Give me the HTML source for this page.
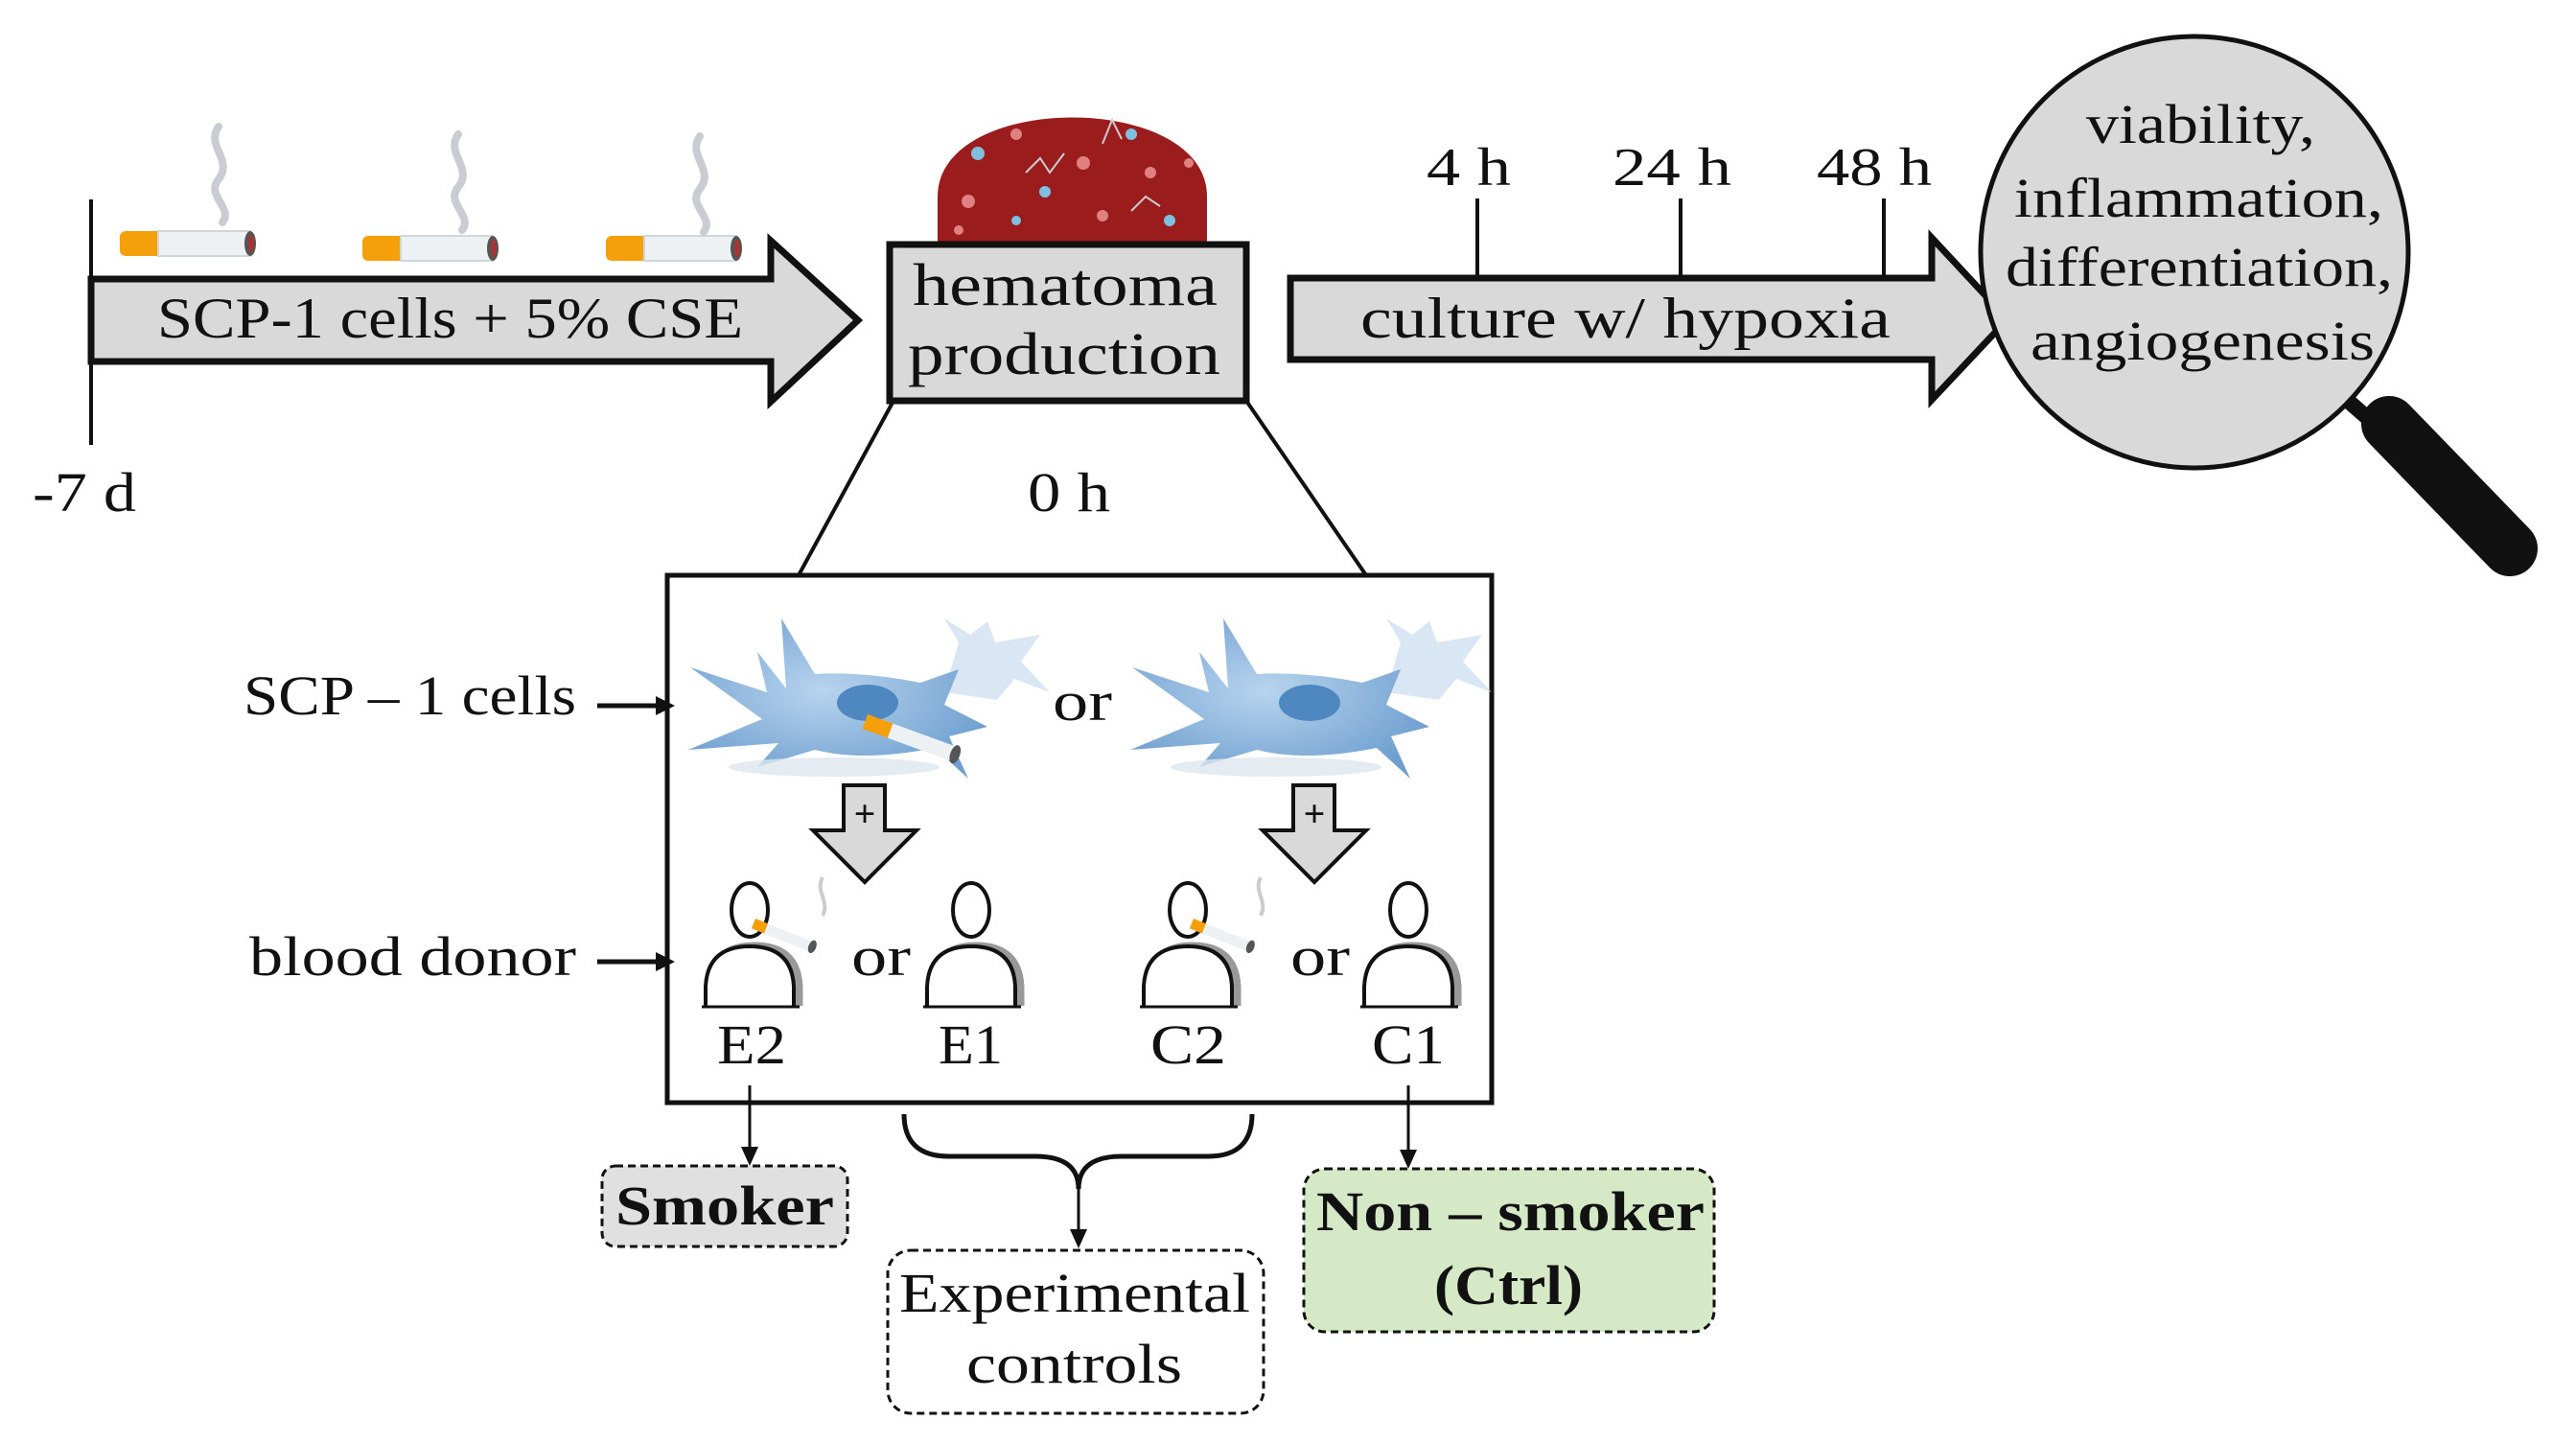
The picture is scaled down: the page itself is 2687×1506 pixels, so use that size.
<!DOCTYPE html>
<html><head><meta charset="utf-8"><style>
html,body{margin:0;padding:0;background:#fff;}
svg{display:block;}
text{font-family:"Liberation Serif",serif;fill:#111;}
</style></head><body>
<svg width="2687" height="1506" viewBox="0 0 2687 1506" xmlns="http://www.w3.org/2000/svg">
<defs>
<radialGradient id="cg" cx="0.45" cy="0.45" r="0.6"><stop offset="0" stop-color="#b8d4ee"/><stop offset="1" stop-color="#6f9fd0"/></radialGradient>
<g id="cig">
<rect x="0" y="0" width="46" height="26" rx="6" fill="#f5a00a"/>
<rect x="40" y="0" width="96" height="26" fill="#eef1f4" stroke="#cfd6dc" stroke-width="2"/>
<ellipse cx="136" cy="13" rx="6" ry="13" fill="#555"/>
<ellipse cx="137" cy="13" rx="3" ry="9" fill="#a33"/>
</g>
<g id="smoke"><path d="M0 0 C-14 20 16 35 0 55 C-14 72 16 85 4 100" fill="none" stroke="#c9cdd1" stroke-width="8" stroke-linecap="round"/></g>
<g id="cell">
<path d="M1000 670 L985 645 L1012 662 L1030 648 L1038 670 L1085 662 L1065 690 L1095 722 L1058 708 L1040 730 L985 722 Z" fill="#c9dcef" opacity="0.7"/>
<path d="M720 696 L800 722 L790 680 L820 718 L815 645 L850 703 Q900 700 960 712 L1000 698 L985 735 L1030 758 L990 768 L1010 812 L975 780 Q900 795 850 782 L790 800 L812 775 L718 782 L795 750 Z" fill="url(#cg)"/>
<ellipse cx="870" cy="800" rx="110" ry="10" fill="#dde6ee" opacity="0.8"/>
</g>
<g id="person">
<ellipse cx="0" cy="0" rx="19" ry="28" fill="#fff" stroke="#111" stroke-width="4"/>
<path d="M-46 100 L-46 80 Q-44 38 0 38 Q44 38 46 80 L46 100" fill="none" stroke="#999" stroke-width="9" transform="translate(5,0)"/>
<path d="M-46 100 L-46 80 Q-44 38 0 38 Q44 38 46 80 L46 100" fill="#fff" stroke="#111" stroke-width="4"/>
<line x1="-50" y1="101" x2="52" y2="101" stroke="#111" stroke-width="3"/>
</g>
</defs>

<line x1="95" y1="208" x2="95" y2="464" stroke="#111" stroke-width="4"/>
<use href="#cig" x="125" y="241"/><use href="#cig" x="378" y="246"/><use href="#cig" x="632" y="246"/>
<use href="#smoke" x="228" y="132"/><use href="#smoke" x="478" y="140"/><use href="#smoke" x="730" y="142"/>
<polygon points="95,291 804,291 804,251 895,334 804,419 804,377 95,377" fill="#d9d9d9" stroke="#111" stroke-width="7" stroke-linejoin="miter"/>
<text x="164" y="352" font-size="60" textLength="611" lengthAdjust="spacingAndGlyphs">SCP-1 cells + 5% CSE</text>
<text x="34" y="533" font-size="58" textLength="108" lengthAdjust="spacingAndGlyphs">-7 d</text>

<path d="M978 253 L978 205 C978 95 1259 95 1259 205 L1259 253 Z" fill="#9b1c1c"/>
<g fill="#7ec0e0"><circle cx="1020" cy="160" r="7"/><circle cx="1090" cy="200" r="6"/><circle cx="1180" cy="140" r="6"/><circle cx="1220" cy="230" r="6"/><circle cx="1060" cy="230" r="5"/></g>
<g fill="#e08080"><circle cx="1010" cy="210" r="7"/><circle cx="1060" cy="140" r="6"/><circle cx="1130" cy="170" r="7"/><circle cx="1200" cy="180" r="6"/><circle cx="1240" cy="170" r="5"/><circle cx="1150" cy="225" r="6"/><circle cx="1000" cy="240" r="5"/></g>
<g fill="none" stroke="#ccc" stroke-width="2"><path d="M1070 180 l15 -15 l10 15 l15 -20"/><path d="M1150 150 l10 -25 l10 20"/><path d="M1180 220 l15 -15 l15 10"/></g>
<rect x="928" y="255" width="372" height="163" fill="#d9d9d9" stroke="#111" stroke-width="7"/>
<text x="952" y="318" font-size="62" textLength="318" lengthAdjust="spacingAndGlyphs">hematoma</text>
<text x="947" y="390" font-size="62" textLength="326" lengthAdjust="spacingAndGlyphs">production</text>
<line x1="932" y1="418" x2="833" y2="600" stroke="#111" stroke-width="4"/>
<line x1="1300" y1="418" x2="1425" y2="600" stroke="#111" stroke-width="4"/>
<text x="1072" y="533" font-size="58" textLength="86" lengthAdjust="spacingAndGlyphs">0 h</text>

<polygon points="1346,290 2015,290 2015,248 2094,333 2015,417 2015,375 1346,375" fill="#d9d9d9" stroke="#111" stroke-width="7"/>
<g stroke="#111" stroke-width="4"><line x1="1541" y1="207" x2="1541" y2="290"/><line x1="1753" y1="207" x2="1753" y2="290"/><line x1="1965" y1="207" x2="1965" y2="290"/></g>
<text x="1488" y="193" font-size="56" textLength="88" lengthAdjust="spacingAndGlyphs">4 h</text>
<text x="1682" y="193" font-size="56" textLength="124" lengthAdjust="spacingAndGlyphs">24 h</text>
<text x="1895" y="193" font-size="56" textLength="120" lengthAdjust="spacingAndGlyphs">48 h</text>
<text x="1419" y="352" font-size="60" textLength="553" lengthAdjust="spacingAndGlyphs">culture w/ hypoxia</text>

<line x1="2440" y1="410" x2="2480" y2="445" stroke="#111" stroke-width="16"/>
<line x1="2492" y1="442" x2="2618" y2="572" stroke="#111" stroke-width="58" stroke-linecap="round"/>
<ellipse cx="2289" cy="263" rx="223" ry="225" fill="#d9d9d9" stroke="#111" stroke-width="5"/>
<text x="2176" y="149" font-size="58" textLength="239" lengthAdjust="spacingAndGlyphs">viability,</text>
<text x="2101" y="226" font-size="58" textLength="385" lengthAdjust="spacingAndGlyphs">inflammation,</text>
<text x="2092" y="298" font-size="58" textLength="404" lengthAdjust="spacingAndGlyphs">differentiation,</text>
<text x="2118" y="375" font-size="58" textLength="359" lengthAdjust="spacingAndGlyphs">angiogenesis</text>

<rect x="696" y="600" width="860" height="550" fill="#fff" stroke="#111" stroke-width="5"/>
<use href="#cell"/>
<ellipse cx="905" cy="733" rx="32" ry="19" fill="#4f87c0"/>
<g transform="translate(905,745) rotate(20)"><rect x="0" y="0" width="30" height="16" fill="#f5a00a"/><rect x="28" y="0" width="72" height="16" fill="#eef1f4"/><ellipse cx="100" cy="8" rx="5" ry="10" fill="#555"/></g>
<g transform="translate(461,0)"><use href="#cell"/><ellipse cx="905" cy="733" rx="32" ry="19" fill="#4f87c0"/></g>
<text x="1098" y="751" font-size="58" textLength="62" lengthAdjust="spacingAndGlyphs">or</text>

<polygon points="880,819 923,819 923,866 956,866 902,920 848,866 880,866" fill="#d9d9d9" stroke="#111" stroke-width="4"/>
<text x="902" y="862" font-size="40" text-anchor="middle" font-weight="bold">+</text>
<polygon points="1349,819 1392,819 1392,866 1425,866 1371,920 1317,866 1349,866" fill="#d9d9d9" stroke="#111" stroke-width="4"/>
<text x="1371" y="862" font-size="40" text-anchor="middle" font-weight="bold">+</text>

<use href="#person" x="782" y="949"/><use href="#person" x="1013" y="949"/>
<use href="#person" x="1239" y="949"/><use href="#person" x="1469" y="949"/>
<g transform="translate(788,958) rotate(22)"><rect x="0" y="0" width="16" height="11" fill="#f5a00a"/><rect x="14" y="0" width="52" height="11" fill="#eef1f4"/><ellipse cx="66" cy="5" rx="4" ry="7" fill="#555"/></g>
<g transform="translate(1245,958) rotate(22)"><rect x="0" y="0" width="16" height="11" fill="#f5a00a"/><rect x="14" y="0" width="52" height="11" fill="#eef1f4"/><ellipse cx="66" cy="5" rx="4" ry="7" fill="#555"/></g>
<path d="M858 915 c-8 15 8 25 0 40" fill="none" stroke="#ccc" stroke-width="4"/>
<path d="M1315 915 c-8 15 8 25 0 40" fill="none" stroke="#ccc" stroke-width="4"/>
<text x="888" y="1017" font-size="58" textLength="62" lengthAdjust="spacingAndGlyphs">or</text>
<text x="1346" y="1017" font-size="58" textLength="62" lengthAdjust="spacingAndGlyphs">or</text>
<text x="748" y="1109" font-size="58" textLength="72" lengthAdjust="spacingAndGlyphs">E2</text>
<text x="979" y="1109" font-size="58" textLength="67" lengthAdjust="spacingAndGlyphs">E1</text>
<text x="1200" y="1109" font-size="58" textLength="79" lengthAdjust="spacingAndGlyphs">C2</text>
<text x="1431" y="1109" font-size="58" textLength="76" lengthAdjust="spacingAndGlyphs">C1</text>

<text x="254" y="745" font-size="58" textLength="347" lengthAdjust="spacingAndGlyphs">SCP – 1 cells</text>
<line x1="623" y1="736" x2="690" y2="736" stroke="#111" stroke-width="5"/><polygon points="704,736 684,726 684,746" fill="#111"/>
<text x="260" y="1017" font-size="58" textLength="341" lengthAdjust="spacingAndGlyphs">blood donor</text>
<line x1="623" y1="1003" x2="690" y2="1003" stroke="#111" stroke-width="5"/><polygon points="704,1003 684,993 684,1013" fill="#111"/>

<line x1="782" y1="1132" x2="782" y2="1200" stroke="#111" stroke-width="3"/><polygon points="782,1216 773,1196 791,1196" fill="#111"/>
<line x1="1469" y1="1132" x2="1469" y2="1203" stroke="#111" stroke-width="3"/><polygon points="1469,1219 1460,1199 1478,1199" fill="#111"/>
<path d="M943 1162 Q943 1206 990 1206 L1080 1206 Q1125 1206 1125 1240 Q1125 1206 1170 1206 L1260 1206 Q1306 1206 1306 1162" fill="none" stroke="#111" stroke-width="5"/>
<line x1="1125" y1="1230" x2="1125" y2="1285" stroke="#111" stroke-width="3"/><polygon points="1125,1302 1116,1282 1134,1282" fill="#111"/>

<rect x="628" y="1216" width="256" height="84" rx="14" fill="#e0e0e0" stroke="#111" stroke-width="3" stroke-dasharray="8,5"/>
<text x="642" y="1277" font-size="58" font-weight="bold" textLength="228" lengthAdjust="spacingAndGlyphs">Smoker</text>
<rect x="926" y="1304" width="392" height="170" rx="24" fill="#fff" stroke="#111" stroke-width="3" stroke-dasharray="8,5"/>
<text x="938" y="1368" font-size="58" textLength="366" lengthAdjust="spacingAndGlyphs">Experimental</text>
<text x="1008" y="1442" font-size="58" textLength="225" lengthAdjust="spacingAndGlyphs">controls</text>
<rect x="1360" y="1219" width="428" height="170" rx="22" fill="#d6e9c6" stroke="#111" stroke-width="3" stroke-dasharray="8,5"/>
<text x="1373" y="1283" font-size="58" font-weight="bold" textLength="405" lengthAdjust="spacingAndGlyphs">Non – smoker</text>
<text x="1496" y="1360" font-size="58" font-weight="bold" textLength="155" lengthAdjust="spacingAndGlyphs">(Ctrl)</text>
</svg>
</body></html>
